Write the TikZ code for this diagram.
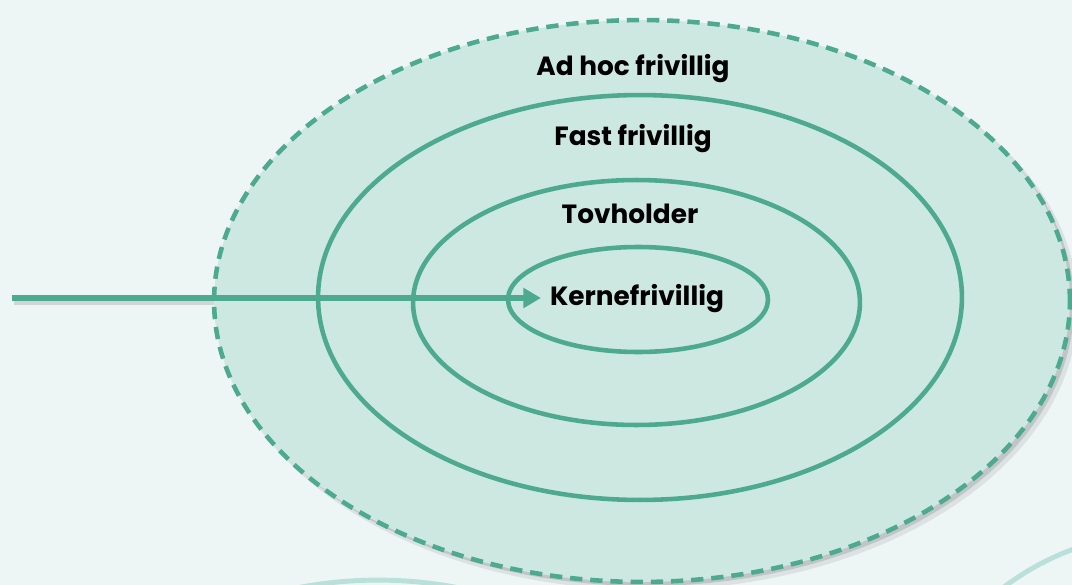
\documentclass[tikz,border=0pt]{standalone}
\usepackage{fontspec}
\setmainfont{Poppins}
\usetikzlibrary{arrows.meta,shadows}
\definecolor{bgmint}{HTML}{EEF6F5}
\definecolor{ringfill}{HTML}{CDE8E1}
\definecolor{ringline}{HTML}{4DAA8E}
\definecolor{decoline}{HTML}{B9E0DB}
\tikzset{
	ring/.style={draw=ringline,line width=2.6pt},
	lbl/.style={font=\fontsize{15}{17}\selectfont\bfseries,text=black,inner sep=0pt}
}
\begin{document}
\begin{tikzpicture}[x=0.02cm,y=-0.02cm]
	\fill[bgmint] (0,0) rectangle (1072,585);
	\useasboundingbox (0,0) rectangle (1072,585);
	\clip (0,0) rectangle (1072,585);
	
	%DECORATION
	\draw[decoline,line width=2.8pt] (378,1000) circle (8.4cm);
	\draw[decoline,line width=2.8pt] (1165,800) circle (5.34cm);
	
	%OUTER
	\fill[black,opacity=0.08] (648,307) ellipse [x radius=8.6cm,y radius=5.66cm];
	\fill[black,opacity=0.12] (646,305) ellipse [x radius=8.56cm,y radius=5.62cm];
	\fill[ringfill] (642,301) ellipse [x radius=8.56cm,y radius=5.62cm];
	
	%ARROW
	\coordinate (start) at (12,298);
	\node[lbl] (kerne) at (637,299) {Kernefrivillig};
	\draw[line width=3pt,draw=black!25,opacity=0.6] (14,302) -- (214,302);
	\draw[ringline,line width=3.2pt,-{Triangle[length=10pt,width=11pt]}] (start) -- ([xshift=-5pt]kerne.west |- start);
	
	\draw[ring,dash pattern=on 7pt off 4.5pt] (642,301) ellipse [x radius=8.56cm,y radius=5.62cm];
	
	%RINGS
	\draw[ring] (640,297.5) ellipse [x radius=6.44cm,y radius=4.05cm];
	\draw[ring] (636.5,302.5) ellipse [x radius=4.47cm,y radius=2.45cm];
	\draw[ring] (638,299.5) ellipse [x radius=2.6cm,y radius=1.05cm];
	
	%LABELS
	\node[lbl] (adhoc) at (633,69) {Ad hoc frivillig};
	\node[lbl] (fast) at (633,139) {Fast frivillig};
	\node[lbl] (tov) at (630,214) {Tovholder};
\end{tikzpicture}
\end{document}
